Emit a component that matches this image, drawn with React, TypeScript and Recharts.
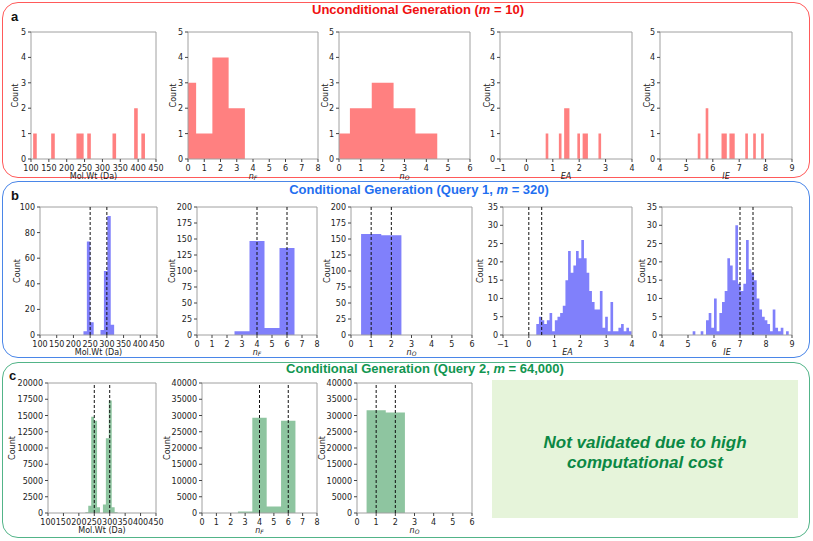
import React from "react";
import { ComposedChart, Area, XAxis, YAxis, ReferenceLine, ReferenceArea } from "recharts";

// tick labels
const molWtTicks = [100, 150, 200, 250, 300, 350, 400, 450];
const nFTicks = [0, 1, 2, 3, 4, 5, 6, 7, 8];
const nOTicks = [0, 1, 2, 3, 4, 5, 6];
const eaTicks = [-1, 0, 1, 2, 3, 4];
const ieTicks = [4, 5, 6, 7, 8, 9];
const countTicksA = [0, 1, 2, 3, 4, 5];
const countTicksB1 = [0, 20, 40, 60, 80, 100];
const countTicksB23 = [0, 25, 50, 75, 100, 125, 150, 175, 200];
const countTicksB45 = [0, 5, 10, 15, 20, 25, 30, 35];
const countTicksC1 = [0, 2500, 5000, 7500, 10000, 12500, 15000, 17500, 20000];
const countTicksC23 = [0, 5000, 10000, 15000, 20000, 25000, 30000, 35000, 40000];

// histogram bins: [first edge, bin width] and counts per bin
const a1Bins = [106, 10.1];
const a1Counts = [1, 0, 0, 0, 0, 1, 0, 0, 0, 0, 0, 0, 1, 1, 0, 1, 0, 0, 0, 0, 0, 0, 1, 0, 0, 0, 0, 0, 2, 0, 1];
const a2Bins = [-0.5, 1];
const a2Counts = [3, 1, 4, 2];
const a3Bins = [-0.5, 1];
const a3Counts = [1, 2, 3, 2, 1];
const a4Bins = [0.73, 0.1];
const a4Counts = [1, 0, 0, 0, 0, 1, 0, 2, 2, 0, 0, 0, 1, 0, 1, 1, 0, 0, 0, 0, 1];
const a5Bins = [5.43, 0.1];
const a5Counts = [1, 0, 0, 2, 0, 0, 0, 0, 0, 1, 1, 0, 1, 1, 0, 0, 0, 0, 1, 0, 0, 1, 0, 0, 1];

const b1Bins = [230, 10.2];
const b1Counts = [3, 73, 10, 0, 0, 4, 50, 93, 8];
const b2Bins = [2.5, 1];
const b2Counts = [6, 147, 11, 136];
const b3Bins = [0.5, 1];
const b3Counts = [158, 156];
const b4Bins = [0.29, 0.1027];
const b4Counts = [3, 5, 4, 3, 4, 6, 1, 4, 5, 6, 8, 15, 23, 17, 19, 23, 21, 26, 21, 17, 12, 9, 7, 7, 12, 2, 5, 1, 9, 1, 1, 2, 3, 1, 2, 1];
const b5Bins = [5.18, 0.1026];
const b5Counts = [1, 0, 0, 1, 0, 4, 6, 2, 10, 1, 6, 9, 12, 21, 19, 15, 30, 14, 12, 14, 26, 18, 17, 15, 10, 7, 5, 4, 3, 1, 7, 2, 1, 2, 0, 1];

const c1Bins = [221, 9.5];
const c1Counts = [100, 1100, 14800, 14200, 900, 0, 1300, 11500, 17300, 900, 100];
const c2Bins = [2.5, 1];
const c2Counts = [500, 29300, 2000, 28400];
const c3Bins = [0.5, 1];
const c3Counts = [31600, 30900];

// query targets (dashed lines)
const molWtTargets = [250, 300];
const nFTargets = [4, 6];
const nOTargets = [1, 2];
const eaTargets = [0, 0.5];
const ieTargets = [7, 7.5];

const RED = "#ff8080";
const BLUE = "#8080fb";
const GREEN = "#8ec5a0";

const FONT = "'DejaVu Sans', sans-serif";
const TEXT = "#222";
const YW = 44;
const MT = 6;
const MR = 14;
const XH = 26;

const toSteps = (bins: number[], counts: number[]) => {
  const pts = counts.map((c, i) => ({ x: bins[0] + i * bins[1], y: c }));
  pts.push({ x: bins[0] + counts.length * bins[1], y: 0 });
  return pts;
};

const fmt = (v: number) => (v < 0 ? `\u2212${Math.abs(v)}` : `${v}`);

const XTick = ({ x, y, payload }: any) => (
  <text x={x} y={y + 7} textAnchor="middle" fontSize={8} fill={TEXT} style={{ fill: TEXT }} fontFamily={FONT}>
    {fmt(payload.value)}
  </text>
);

const YTick = ({ x, y, payload }: any) => (
  <text x={x} y={y + 3} textAnchor="end" fontSize={8} fill={TEXT} style={{ fill: TEXT }} fontFamily={FONT}>
    {payload.value}
  </text>
);

const XLabel = ({ viewBox, kind }: any) => {
  if (!viewBox) return null;
  const cx = viewBox.x + viewBox.width / 2;
  const cy = viewBox.y + 17;
  const common = { x: cx, y: cy, textAnchor: "middle" as const, dominantBaseline: "middle" as const, fontSize: 8, fill: TEXT, fontFamily: FONT };
  if (kind === "mol") return <text {...common}>Mol.Wt (Da)</text>;
  if (kind === "nF" || kind === "nO")
    return (
      <text {...common}>
        <tspan fontStyle="italic">n</tspan>
        <tspan fontStyle="italic" fontSize={6} dy={2}>{kind === "nF" ? "F" : "O"}</tspan>
      </text>
    );
  return (
    <text {...common} fontStyle="italic">
      {kind}
    </text>
  );
};

const CountLabel = ({ viewBox, dx }: any) => {
  if (!viewBox) return null;
  const x = viewBox.x + viewBox.width + dx;
  const y = viewBox.y + viewBox.height / 2;
  return (
    <text x={x} y={y} transform={`rotate(-90 ${x} ${y})`} textAnchor="middle" dominantBaseline="middle" fontSize={8} fill={TEXT} fontFamily={FONT}>
      Count
    </text>
  );
};

interface HistProps {
  left: number;
  top: number;
  w: number;
  h: number;
  bins: number[];
  counts: number[];
  color: string;
  xTicks: number[];
  yTicks: number[];
  targets?: number[];
  kind: string;
  countDx: number;
}

const Hist = ({ left, top, w, h, bins, counts, color, xTicks, yTicks, targets, kind, countDx }: HistProps) => {
  const data = toSteps(bins, counts);
  const xd: [number, number] = [xTicks[0], xTicks[xTicks.length - 1]];
  const yd: [number, number] = [0, yTicks[yTicks.length - 1]];
  const cw = YW + w + MR;
  const ch = MT + h + XH;
  return (
    <div style={{ position: "absolute", left: left - YW, top: top - MT, width: cw, height: ch, overflow: "hidden" }}>
      <ComposedChart
        width={cw}
        height={ch}
        data={data}
        margin={{ top: MT, right: MR, bottom: 0, left: 0 }}
        accessibilityLayer={false}
      >
        <XAxis
          dataKey="x"
          type="number"
          domain={xd}
          ticks={xTicks}
          interval={0}
          allowDataOverflow
          height={XH}
          tickSize={3}
          tickLine={{ stroke: "#444" }}
          axisLine={false}
          tick={<XTick />}
          label={(p: any) => <XLabel {...p} kind={kind} />}
        />
        <YAxis
          type="number"
          domain={yd}
          ticks={yTicks}
          interval={0}
          width={YW}
          tickSize={3}
          tickLine={{ stroke: "#444" }}
          axisLine={false}
          tick={<YTick />}
          label={(p: any) => <CountLabel {...p} dx={countDx} />}
        />
        <Area
          dataKey="y"
          type="stepAfter"
          stroke="none"
          fill={color}
          fillOpacity={1}
          dot={false}
          activeDot={false}
          isAnimationActive={false}
        />
        {(targets || []).map((t) => (
          <ReferenceLine key={t} x={t} stroke="#111" strokeDasharray="3 2" strokeWidth={1} />
        ))}
        <ReferenceArea x1={xd[0]} x2={xd[1]} y1={yd[0]} y2={yd[1]} fill="none" stroke="#a0a0a0" strokeWidth={1} />
      </ComposedChart>
    </div>
  );
};

const Panel = ({ top, height, color }: { top: number; height: number; color: string }) => (
  <div
    style={{
      position: "absolute",
      left: 2,
      top,
      width: 808,
      height,
      boxSizing: "border-box",
      border: `1.5px solid ${color}`,
      borderRadius: 16,
    }}
  />
);

const Title = ({ cx, cy, color, children }: any) => (
  <div
    style={{
      position: "absolute",
      left: cx,
      top: cy - 8,
      transform: "translateX(-50%)",
      whiteSpace: "nowrap",
      fontFamily: "'Liberation Sans', Arial, sans-serif",
      fontWeight: "bold",
      fontSize: 13,
      lineHeight: "16px",
      color,
    }}
  >
    {children}
  </div>
);

const Letter = ({ x, y, children }: any) => (
  <div
    style={{
      position: "absolute",
      left: x,
      top: y - 8,
      fontFamily: "'Liberation Sans', Arial, sans-serif",
      fontWeight: "bold",
      fontSize: 13,
      lineHeight: "16px",
      color: "#111",
    }}
  >
    {children}
  </div>
);

export default function App() {
  return (
    <div style={{ position: "absolute", left: 0, top: 0, width: 813, height: 541, background: "#fff", overflow: "hidden" }}>
      <Panel top={2} height={176} color="#ff5a5a" />
      <Panel top={181} height={177} color="#4a86e8" />
      <Panel top={362} height={176} color="#52b488" />

      <Title cx={418} cy={10} color="#f01010">
        Unconditional Generation (<i>m</i> = 10)
      </Title>
      <Title cx={419} cy={190} color="#1f6ff0">
        Conditional Generation (Query 1, <i>m</i> = 320)
      </Title>
      <Title cx={425} cy={369} color="#119650">
        Conditional Generation (Query 2, <i>m</i> = 64,000)
      </Title>
      <Letter x={11} y={17}>a</Letter>
      <Letter x={11} y={196}>b</Letter>
      <Letter x={9} y={376}>c</Letter>

      <Hist left={31} top={32} w={125} h={127} bins={a1Bins} counts={a1Counts} color={RED} xTicks={molWtTicks} yTicks={countTicksA} kind="mol" countDx={-16} />
      <Hist left={188} top={32} w={130} h={127} bins={a2Bins} counts={a2Counts} color={RED} xTicks={nFTicks} yTicks={countTicksA} kind="nF" countDx={-15} />
      <Hist left={339} top={32} w={131} h={127} bins={a3Bins} counts={a3Counts} color={RED} xTicks={nOTicks} yTicks={countTicksA} kind="nO" countDx={-14} />
      <Hist left={500} top={32} w={132} h={127} bins={a4Bins} counts={a4Counts} color={RED} xTicks={eaTicks} yTicks={countTicksA} kind="EA" countDx={-13} />
      <Hist left={660} top={32} w={132} h={127} bins={a5Bins} counts={a5Counts} color={RED} xTicks={ieTicks} yTicks={countTicksA} kind="IE" countDx={-13} />

      <Hist left={40} top={207} w={117} h={128} bins={b1Bins} counts={b1Counts} color={BLUE} xTicks={molWtTicks} yTicks={countTicksB1} targets={molWtTargets} kind="mol" countDx={-23} />
      <Hist left={197} top={207} w={120} h={128} bins={b2Bins} counts={b2Counts} color={BLUE} xTicks={nFTicks} yTicks={countTicksB23} targets={nFTargets} kind="nF" countDx={-25} />
      <Hist left={351} top={207} w={121} h={128} bins={b3Bins} counts={b3Counts} color={BLUE} xTicks={nOTicks} yTicks={countTicksB23} targets={nOTargets} kind="nO" countDx={-24} />
      <Hist left={503} top={207} w={129} h={128} bins={b4Bins} counts={b4Counts} color={BLUE} xTicks={eaTicks} yTicks={countTicksB45} targets={eaTargets} kind="EA" countDx={-23} />
      <Hist left={662} top={207} w={130} h={128} bins={b5Bins} counts={b5Counts} color={BLUE} xTicks={ieTicks} yTicks={countTicksB45} targets={ieTargets} kind="IE" countDx={-20} />

      <Hist left={48} top={383} w={108} h={130} bins={c1Bins} counts={c1Counts} color={GREEN} xTicks={molWtTicks} yTicks={countTicksC1} targets={molWtTargets} kind="mol" countDx={-36} />
      <Hist left={202} top={383} w={115} h={130} bins={c2Bins} counts={c2Counts} color={GREEN} xTicks={nFTicks} yTicks={countTicksC23} targets={nFTargets} kind="nF" countDx={-35} />
      <Hist left={357} top={383} w={115} h={130} bins={c3Bins} counts={c3Counts} color={GREEN} xTicks={nOTicks} yTicks={countTicksC23} targets={nOTargets} kind="nO" countDx={-35} />

      <div
        style={{
          position: "absolute",
          left: 492,
          top: 380,
          width: 306,
          height: 138,
          boxSizing: "border-box",
          paddingTop: 8,
          background: "#e6f4da",
          display: "flex",
          alignItems: "center",
          justifyContent: "center",
          textAlign: "center",
          fontFamily: "'Liberation Sans', Arial, sans-serif",
          fontWeight: "bold",
          fontStyle: "italic",
          fontSize: 17,
          lineHeight: "20px",
          color: "#0b8844",
        }}
      >
        Not validated due to high
        <br />
        computational cost
      </div>
    </div>
  );
}
